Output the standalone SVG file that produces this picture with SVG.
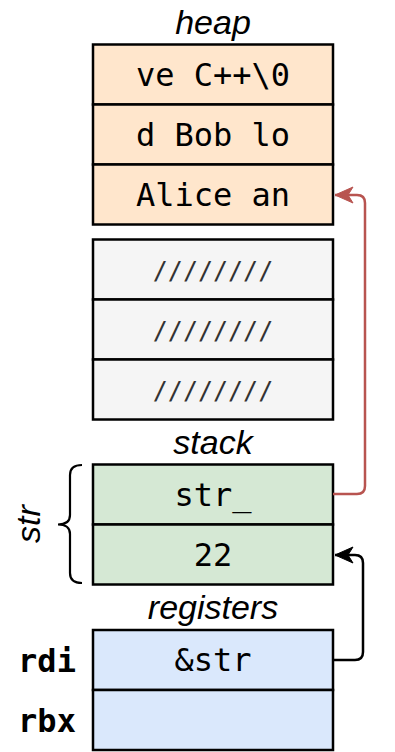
<svg xmlns="http://www.w3.org/2000/svg" width="395" height="752" viewBox="0 0 395 752">
<defs>
<style>
.cell{stroke:#000;stroke-width:2.5}
.heapc{fill:#ffe6cc}
.freec{fill:#f5f5f5}
.stackc{fill:#d5e8d4}
.regc{fill:#dae8fc}
.mono{font-family:"DejaVu Sans Mono",monospace;font-size:32px;fill:#000;text-anchor:middle}
.slash{font-family:"DejaVu Sans Mono",monospace;font-size:25px;fill:#333;text-anchor:middle}
.monob{font-family:"DejaVu Sans Mono",monospace;font-size:32px;font-weight:bold;fill:#000;text-anchor:middle}
.lab{font-family:"Liberation Sans",Arial,sans-serif;font-style:italic;font-size:34px;fill:#000;text-anchor:middle}
.conn{fill:none;stroke-width:2.5}
</style>
<marker id="arrRed" markerUnits="userSpaceOnUse" markerWidth="20" markerHeight="18" refX="19" refY="9" orient="auto" viewBox="0 0 20 18">
<path d="M19 9 L1 1 L6 9 L1 17 Z" fill="#b85450" stroke="#b85450" stroke-width="1"/>
</marker>
<marker id="arrBlk" markerUnits="userSpaceOnUse" markerWidth="20" markerHeight="18" refX="19" refY="9" orient="auto" viewBox="0 0 20 18">
<path d="M19 9 L1 1 L6 9 L1 17 Z" fill="#000" stroke="#000" stroke-width="1"/>
</marker>
</defs>
<rect width="395" height="752" fill="#fff"/>

<text id="label-heap" class="lab" x="213" y="34">heap</text>
<g id="heap">
<g id="heap-row1"><rect class="cell heapc" x="93" y="44.5" width="240" height="60"/><text class="mono" x="213" y="86">ve C++\0</text></g>
<g id="heap-row2"><rect class="cell heapc" x="93" y="104.5" width="240" height="60"/><text class="mono" x="213" y="146">d Bob lo</text></g>
<g id="heap-row3"><rect class="cell heapc" x="93" y="164.5" width="240" height="60"/><text class="mono" x="213" y="206">Alice an</text></g>
</g>

<g id="free">
<g id="free-row1"><rect class="cell freec" x="93" y="239.5" width="240" height="60"/><text class="slash" x="213" y="279">////////</text></g>
<g id="free-row2"><rect class="cell freec" x="93" y="299.5" width="240" height="60"/><text class="slash" x="213" y="339">////////</text></g>
<g id="free-row3"><rect class="cell freec" x="93" y="359.5" width="240" height="60"/><text class="slash" x="213" y="399">////////</text></g>
</g>

<text id="label-stack" class="lab" x="213" y="454">stack</text>
<g id="stack">
<g id="stack-str"><rect class="cell stackc" x="93" y="464.5" width="240" height="60"/><text class="mono" x="213" y="506">str_</text></g>
<g id="stack-size"><rect class="cell stackc" x="93" y="524.5" width="240" height="60"/><text class="mono" x="213" y="566">22</text></g>
</g>
<g id="str-brace">
<path d="M82 465 Q70 465 70 475 V515 Q70 524.5 58 524.5 Q70 524.5 70 534 V573 Q70 583 82 583" fill="none" stroke="#000" stroke-width="2.2"/>
<text class="lab" transform="translate(40 524) rotate(-90)" x="0" y="0">str</text>
</g>

<text id="label-registers" class="lab" x="213" y="619">registers</text>
<g id="registers">
<g id="reg-rdi"><rect class="cell regc" x="93" y="630" width="240" height="60"/><text class="mono" x="213" y="671">&amp;str</text><text class="monob" x="47" y="672">rdi</text></g>
<g id="reg-rbx"><rect class="cell regc" x="93" y="690" width="240" height="60"/><text class="monob" x="47" y="732">rbx</text></g>
</g>

<g id="connectors">
<path class="conn" stroke="#b85450" d="M333 494 H357 Q365 494 365 486 V203 Q365 195 357 195 H335" marker-end="url(#arrRed)"/>
<path class="conn" stroke="#000" d="M333 660 H355 Q363 660 363 652 V563 Q363 555 355 555 H335" marker-end="url(#arrBlk)"/>
</g>
</svg>
